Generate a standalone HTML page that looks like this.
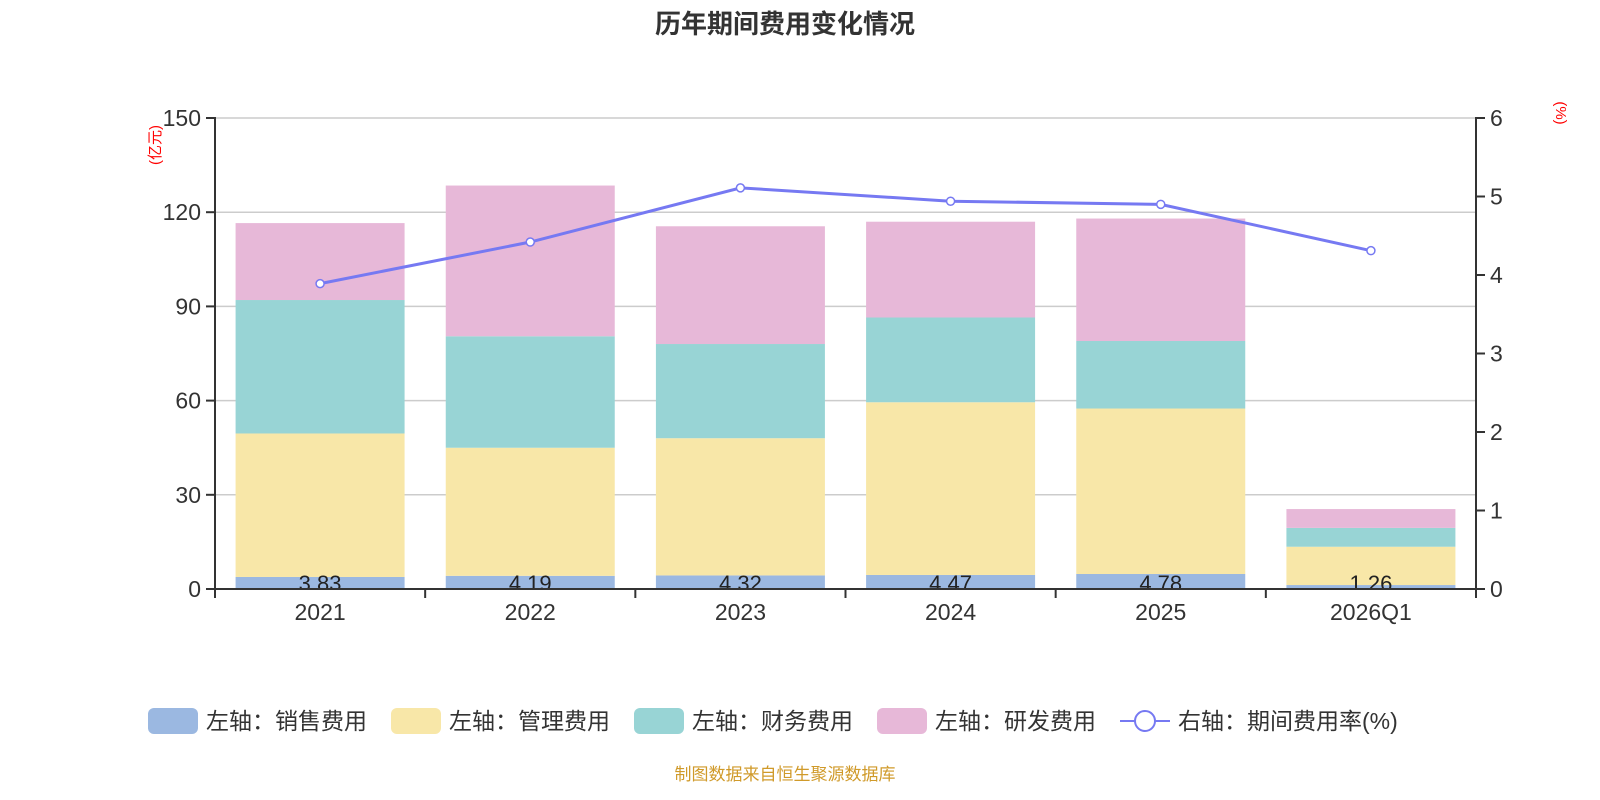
<!DOCTYPE html>
<html><head><meta charset="utf-8"><style>
html,body{margin:0;padding:0;background:#fff;}
svg{display:block;font-family:"Liberation Sans","Noto Sans CJK SC",sans-serif;}
</style></head><body>
<svg id="chart" width="1600" height="800" viewBox="0 0 1600 800">
<defs><clipPath id="plotclip"><rect x="215" y="100" width="1261" height="489"/></clipPath></defs>
<text x="785" y="33" text-anchor="middle" font-size="26" font-weight="bold" fill="#333">历年期间费用变化情况</text>
<g id="grid"></g>
<g id="bars"></g>
<g id="labels" clip-path="url(#plotclip)"></g>
<g id="axes"></g>
<g id="line"></g>
<text transform="translate(160,145) rotate(-90)" text-anchor="middle" font-size="15" fill="red">(亿元)</text>
<text transform="translate(1556,113) rotate(90)" text-anchor="middle" font-size="15" fill="red">(%)</text>
<g id="legend" font-size="23" fill="#333">
<g><rect x="148" y="708" width="50" height="26" rx="6" fill="#9bb8e1"/><text x="206" y="729">左轴：销售费用</text></g>
<g><rect x="391" y="708" width="50" height="26" rx="6" fill="#f8e7a8"/><text x="449" y="729">左轴：管理费用</text></g>
<g><rect x="634" y="708" width="50" height="26" rx="6" fill="#98d4d5"/><text x="692" y="729">左轴：财务费用</text></g>
<g><rect x="877" y="708" width="50" height="26" rx="6" fill="#e7b8d8"/><text x="935" y="729">左轴：研发费用</text></g>
<g><line x1="1120" y1="721" x2="1170" y2="721" stroke="#7679f2" stroke-width="2"/><circle cx="1145" cy="721" r="10" fill="#fff" stroke="#7679f2" stroke-width="2"/><text x="1178" y="729">右轴：期间费用率(%)</text></g>
</g>
<text x="785" y="780" text-anchor="middle" font-size="17" fill="#d09a2a">制图数据来自恒生聚源数据库</text>
</svg>
<script>
const categories=["2021","2022","2023","2024","2025","2026Q1"];
const sales=[3.83,4.19,4.32,4.47,4.78,1.26];
const admin=[45.7,40.8,43.7,55.0,52.7,12.2];
const finance=[42.5,35.5,30.0,27.0,21.5,6.0];
const rd=[24.5,48.0,37.5,30.5,39.0,6.0];
const rate=[3.89,4.42,5.11,4.94,4.90,4.31];
const leftTicks=[0,30,60,90,120,150];
const rightTicks=[0,1,2,3,4,5,6];
const NS="http://www.w3.org/2000/svg";
const X0=215,X1=1476,Y0=589,Y1=118;
const band=(X1-X0)/categories.length, bw=169;
const yL=v=>Y0-(v/150)*(Y0-Y1);
const yR=v=>Y0-(v/6)*(Y0-Y1);
const xC=i=>X0+band*(i+0.5);
function mk(tag,attrs,parent){const e=document.createElementNS(NS,tag);for(const k in attrs)e.setAttribute(k,attrs[k]);document.getElementById(parent).appendChild(e);return e;}
leftTicks.forEach(t=>{
 const g=mk('line',{x1:X0,x2:X1,y1:yL(t),y2:yL(t),stroke:'#ccc','stroke-width':1.5},'grid');
 
 
 const tk=mk('line',{x1:X0-9,x2:X0,y1:yL(t),y2:yL(t),stroke:'#333','stroke-width':2},'axes');
 
 
 const tx=mk('text',{x:X0-14,y:yL(t)+8,'text-anchor':'end','font-size':23,fill:'#333'},'axes');tx.textContent=t;
 
 
});
rightTicks.forEach(t=>{
 const tk=mk('line',{x1:X1,x2:X1+9,y1:yR(t),y2:yR(t),stroke:'#333','stroke-width':2},'axes');
 
 
 const tx=mk('text',{x:X1+14,y:yR(t)+8,'font-size':23,fill:'#333'},'axes');tx.textContent=t;
 
 
});
const series=[[sales,'#9bb8e1','sales'],[admin,'#f8e7a8','admin'],[finance,'#98d4d5','finance'],[rd,'#e7b8d8','rd']];
categories.forEach((c,i)=>{
 let base=0;
 series.forEach(([arr,col,nm])=>{
  const top=base+arr[i];
  const r=mk('rect',{x:xC(i)-bw/2,y:yL(top),width:bw,height:yL(base)-yL(top),fill:col},'bars');
  
  
  base=top;
 });
 const lb=mk('text',{x:xC(i),y:yL(0)+2,'text-anchor':'middle','font-size':22,fill:'#222'},'labels');lb.textContent=sales[i].toFixed(2);
 
 
 const xl=mk('text',{x:xC(i),y:620,'text-anchor':'middle','font-size':23,fill:'#333'},'axes');xl.textContent=c;
 
 
});
for(let i=0;i<=categories.length;i++){
 const tk=mk('line',{x1:X0+band*i,x2:X0+band*i,y1:Y0,y2:Y0+9,stroke:'#333','stroke-width':2},'axes');
 
 
}
const ax=[['left-axis',X0,Y1-1,X0,Y0],['right-axis',X1,Y1-1,X1,Y0+9],['x-axis',X0,Y0,X1,Y0]];
ax.forEach(([n,a,b,c2,d])=>{const l=mk('line',{x1:a,y1:b,x2:c2,y2:d,stroke:'#333','stroke-width':2},'axes');
 
 });
const pts=rate.map((v,i)=>xC(i)+','+yR(v)).join(' ');
const pl=mk('polyline',{points:pts,fill:'none',stroke:'#7679f2','stroke-width':3},'line');


rate.forEach((v,i)=>{const p=mk('circle',{cx:xC(i),cy:yR(v),r:4,fill:'#fff',stroke:'#7679f2','stroke-width':1.5},'line');
 
 });
</script>
</body></html>
